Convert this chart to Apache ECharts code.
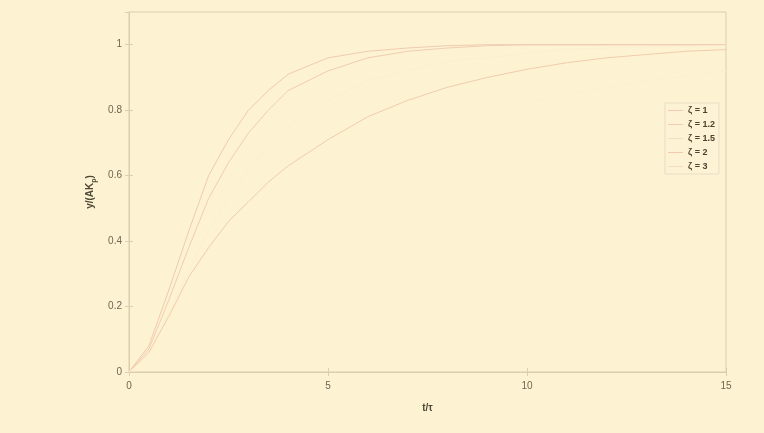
<!DOCTYPE html>
<html>
<head>
<meta charset="utf-8">
<script src="https://cdn.jsdelivr.net/npm/echarts@6/dist/echarts.min.js"></script>
<style>
  html, body { margin: 0; padding: 0; background: #fdf2d1; }
  #chart { width: 764px; height: 433px; }
</style>
</head>
<body>
<div id="chart"></div>
<script>
// time axis samples (t/tau)
const tValues = [0, 0.5, 1, 1.5, 2, 2.5, 3, 3.5, 4, 5, 6, 7, 8, 9, 10, 11, 12, 13, 14, 15]
// normalised response
const zeta1 = [0, 0.08, 0.25, 0.43, 0.6, 0.71, 0.8, 0.86, 0.91, 0.96, 0.98, 0.99, 0.997, 1, 1, 1, 1, 1, 1, 1]
const zeta12 = [0, 0.07, 0.22, 0.38, 0.53, 0.64, 0.73, 0.8, 0.86, 0.92, 0.96, 0.98, 0.99, 0.997, 1, 1, 1, 1, 1, 1]
const zeta15 = [0, 0.06, 0.18, 0.31, 0.43, 0.53, 0.62, 0.69, 0.75, 0.83, 0.89, 0.92, 0.95, 0.96, 0.975, 0.985, 0.99, 0.993, 0.995, 0.997]
const zeta2 = [0, 0.06, 0.17, 0.29, 0.38, 0.46, 0.52, 0.58, 0.63, 0.71, 0.78, 0.83, 0.87, 0.9, 0.925, 0.945, 0.96, 0.97, 0.98, 0.985]
const zeta3 = [0, 0.05, 0.13, 0.21, 0.28, 0.34, 0.39, 0.44, 0.49, 0.57, 0.64, 0.7, 0.74, 0.78, 0.82, 0.85, 0.87, 0.89, 0.905, 0.92]
const seriesNames = ['ζ = 1', 'ζ = 1.2', 'ζ = 1.5', 'ζ = 2', 'ζ = 3']
// the 1.5 and 3 curves are almost lost in the washed-out scan
const seriesColors = ['#efcbb0', '#f0cdb3', '#fcefd0', '#f0ccae', '#fcf0d1']
const legendColors = ['#efcbb0', '#f0cdb3', '#f3dfc0', '#f0ccae', '#f3dfc0']
const xTicks = [0, 5, 10, 15]
const yTicks = [0, 0.2, 0.4, 0.6, 0.8, 1]

const allData = [zeta1, zeta12, zeta15, zeta2, zeta3]
const textColor = '#6e6752'
const frameColor = '#dccfb0'

const myChart = echarts.init(document.getElementById('chart'))
const options = {
  backgroundColor: '#fdf2d1',
  animation: false,
  grid: { left: 129, right: 38, top: 12, bottom: 61, show: true, borderColor: frameColor, borderWidth: 1 },
  legend: {
    orient: 'vertical',
    left: 665,
    top: 103,
    itemWidth: 15,
    itemHeight: 8,
    itemGap: 5,
    padding: [3, 4, 3, 3],
    borderColor: '#e8ddc2',
    borderWidth: 1,
    backgroundColor: '#fdf3d4',
    icon: 'path://M0,4L15,4L15,5L0,5Z',
    textStyle: { color: '#4a4330', fontSize: 9, fontWeight: 'bold', fontFamily: 'Liberation Sans' },
    data: seriesNames.map((n, i) => ({ name: n, itemStyle: { color: legendColors[i] } }))
  },
  xAxis: [
    {
      type: 'value',
      min: xTicks[0],
      max: xTicks[xTicks.length - 1],
      interval: 5,
      name: 't/τ',
      nameLocation: 'middle',
      nameGap: 31,
      nameTextStyle: { color: '#4e4836', fontSize: 10, fontWeight: 'bold', fontFamily: 'Liberation Sans' },
      axisLine: { lineStyle: { color: frameColor } },
      axisTick: { inside: true, length: 4, lineStyle: { color: frameColor } },
      axisLabel: { color: textColor, fontSize: 10, margin: 9, fontFamily: 'Liberation Sans' },
      splitLine: { show: false }
    },
    {
      type: 'value', position: 'top', min: 0, max: 15, interval: 5,
      axisLine: { lineStyle: { color: frameColor } },
      axisTick: { inside: true, length: 4, lineStyle: { color: frameColor } },
      axisLabel: { show: false }, splitLine: { show: false }
    }
  ],
  yAxis: [
    {
      type: 'value',
      min: 0,
      max: 1.1,
      interval: 0.2,
      name: 'y/(AK{sub|p})',
      nameLocation: 'middle',
      nameGap: 30,
      nameTextStyle: {
        color: '#4e4836', fontSize: 10, fontWeight: 'bold', fontFamily: 'Liberation Sans',
        rich: { sub: { fontSize: 7, fontWeight: 'bold', color: '#4e4836', verticalAlign: 'bottom', padding: [6, 0, 0, 0] } }
      },
      axisLine: { lineStyle: { color: frameColor } },
      axisTick: { inside: true, length: 4, lineStyle: { color: frameColor } },
      axisLabel: {
        color: textColor, fontSize: 10, margin: 7, showMaxLabel: false, fontFamily: 'Liberation Sans',
        formatter: (v) => (yTicks.some((t) => Math.abs(t - v) < 1e-6) ? String(Math.round(v * 10) / 10) : '')
      },
      splitLine: { show: false }
    },
    {
      type: 'value', position: 'right', min: 0, max: 1.1, interval: 0.2,
      axisLine: { lineStyle: { color: frameColor } },
      axisTick: { inside: true, length: 4, lineStyle: { color: frameColor } },
      axisLabel: { show: false }, splitLine: { show: false }
    }
  ],
  series: allData.map((vals, i) => ({
    name: seriesNames[i],
    type: 'line',
    showSymbol: false,
    smooth: false,
    color: legendColors[i],
    lineStyle: { width: 1, color: seriesColors[i] },
    data: vals.map((v, k) => [tValues[k], v])
  }))
}
myChart.setOption(options)
</script>
</body>
</html>
